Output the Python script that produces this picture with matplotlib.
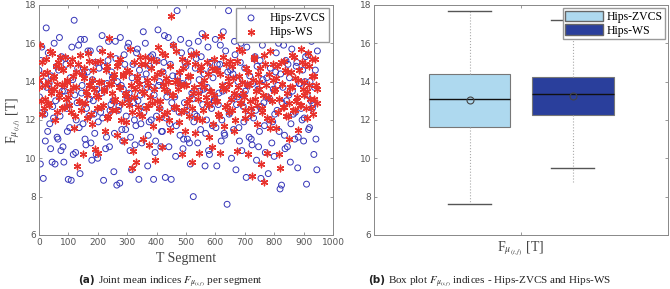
import matplotlib.pyplot as plt
import matplotlib.patches as mpatches
import numpy as np

plt.rcParams['mathtext.fontset'] = 'stix'

# segment index (two interleaved reads of the scatter, every 5th segment each)
segments = np.arange(0, 950, 5)
segments_b = segments + 2

zvcs = np.array([
    14.6, 9.7, 15.8, 8.95, 12.3, 16.8, 11.4, 13.9, 10.5, 9.8,
    12.1, 9.7, 14.8, 11.0, 16.3, 10.4, 13.5, 9.8, 15.2, 12.6,
    8.9, 11.6, 8.85, 14.1, 17.2, 10.3, 12.9, 15.9, 9.2, 13.4,
    11.8, 16.2, 10.7, 14.5, 12.2, 15.6, 9.9, 13.0, 11.3, 10.2,
    10.0, 14.7, 12.4, 16.4, 8.85, 13.6, 11.1, 15.1, 10.6, 12.8,
    14.2, 9.3, 16.1, 8.6, 12.5, 8.7, 13.8, 10.9, 15.4, 11.5,
    13.1, 16.0, 10.4, 9.4, 14.9, 12.0, 11.7, 15.7, 8.9, 13.3,
    10.8, 16.6, 12.7, 14.4, 9.6, 11.9, 15.3, 13.7, 8.9, 10.3,
    12.2, 16.7, 14.0, 10.6, 11.4, 15.0, 9.0, 13.2, 16.3, 11.8,
    8.9, 14.3, 12.6, 10.1, 17.7, 13.9, 11.2, 15.5, 10.5, 12.9,
    14.8, 11.0, 16.0, 9.7, 13.4, 8.0, 12.3, 15.2, 10.8, 14.1,
    11.5, 16.5, 13.6, 9.6, 12.0, 15.8, 10.2, 14.6, 11.7, 13.0,
    16.2, 9.6, 12.8, 14.9, 10.9, 13.5, 11.3, 15.6, 7.6, 17.7,
    12.4, 10.0, 14.4, 16.1, 9.4, 13.2, 11.6, 15.0, 10.4, 12.7,
    14.7, 9.0, 13.8, 11.1, 16.4, 10.7, 12.1, 15.3, 9.9, 13.6,
    11.4, 8.95, 15.9, 12.9, 10.3, 14.2, 9.2, 13.1, 16.3, 11.9,
    10.1, 14.5, 12.5, 16.0, 8.4, 8.6, 13.7, 11.2, 15.1, 10.6,
    13.3, 9.8, 15.7, 12.3, 11.0, 14.8, 9.5, 13.9, 16.5, 12.0,
    10.9, 14.0, 8.65, 15.4, 11.6, 13.0, 12.6, 10.2, 14.6, 9.4,
])
zvcs_b = np.array([
    13.2, 15.1, 12.4, 14.0, 10.9, 13.7, 15.5, 11.8, 14.3, 12.7,
    16.0, 13.0, 11.1, 14.6, 12.2, 15.3, 10.6, 13.5, 14.9, 11.4,
    12.8, 14.2, 15.8, 10.2, 13.3, 12.0, 14.7, 11.6, 16.2, 13.8,
    14.4, 11.0, 12.6, 15.6, 13.1, 10.8, 14.1, 12.3, 15.0, 13.6,
    11.9, 15.7, 13.4, 12.1, 14.8, 10.5, 13.9, 16.1, 12.5, 14.5,
    13.0, 11.3, 15.2, 14.0, 12.7, 16.3, 11.5, 13.6, 14.9, 12.2,
    15.8, 13.4, 11.1, 14.2, 12.9, 10.7, 15.5, 13.0, 14.6, 11.8,
    14.1, 12.4, 16.0, 13.7, 11.2, 14.8, 12.0, 15.4, 13.3, 10.9,
    15.1, 13.8, 12.6, 11.4, 14.5, 16.4, 12.1, 13.5, 10.6, 14.9,
    12.9, 15.9, 13.2, 11.7, 14.3, 12.4, 16.2, 13.9, 11.0, 15.0,
    12.5, 14.0, 10.8, 15.6, 13.1, 11.9, 14.7, 12.2, 16.1, 13.5,
    15.3, 12.8, 14.4, 11.3, 13.7, 10.4, 15.0, 12.6, 14.2, 13.0,
    11.6, 14.9, 13.4, 15.9, 12.0, 16.6, 11.2, 13.8, 14.5, 12.3,
    14.6, 13.1, 11.5, 15.4, 12.8, 14.0, 10.9, 16.0, 13.3, 11.9,
    13.5, 15.8, 12.2, 14.3, 11.0, 13.9, 15.2, 12.5, 14.8, 10.6,
    15.1, 12.7, 14.1, 11.7, 16.4, 13.2, 12.0, 14.7, 10.8, 13.6,
    12.3, 15.5, 13.8, 11.4, 14.4, 12.9, 15.9, 10.5, 13.0, 14.9,
    14.2, 11.8, 13.5, 16.3, 12.4, 15.0, 11.1, 13.9, 12.6, 14.6,
    12.1, 15.3, 13.3, 11.5, 14.0, 16.1, 12.8, 13.7, 11.0, 15.6,
])

ws = np.array([
    13.7, 15.9, 12.3, 14.4, 13.1, 15.2, 14.0, 12.8, 13.6, 15.5,
    14.3, 12.0, 13.9, 15.0, 13.4, 14.7, 12.6, 13.8, 15.3, 14.1,
    13.2, 14.9, 12.4, 13.7, 11.6, 14.5, 9.6, 13.0, 15.4, 12.9,
    10.2, 14.2, 13.5, 12.1, 15.1, 13.8, 11.8, 14.6, 10.5, 13.3,
    10.3, 14.0, 12.7, 15.6, 13.6, 11.4, 14.8, 12.2, 16.3, 13.9,
    12.5, 14.4, 13.1, 11.2, 15.0, 13.7, 12.0, 14.3, 10.9, 13.4,
    14.6, 12.8, 15.7, 9.5, 10.4, 13.2, 9.8, 14.1, 12.3, 15.3,
    13.5, 11.0, 14.9, 12.6, 13.8, 10.7, 15.2, 12.9, 14.2, 9.9,
    13.0, 15.8, 12.1, 14.5, 10.6, 13.6, 15.4, 12.4, 14.0, 11.5,
    17.4, 13.3, 12.7, 15.6, 14.1, 11.9, 13.9, 10.2, 14.7, 12.5,
    13.8, 15.0, 12.2, 14.3, 9.8, 13.4, 11.3, 15.5, 13.1, 10.3,
    14.8, 12.0, 13.7, 16.4, 12.9, 14.4, 11.1, 13.5, 10.6, 15.2,
    13.0, 14.6, 12.3, 10.3, 16.4, 13.6, 11.7, 14.9, 12.8, 13.9,
    15.1, 12.5, 14.2, 11.4, 13.3, 10.4, 15.7, 12.9, 14.0, 13.4,
    12.1, 14.7, 10.2, 13.8, 12.6, 9.1, 15.3, 13.1, 11.8, 14.4,
    13.6, 9.7, 12.4, 8.75, 14.9, 10.3, 13.2, 15.6, 12.0, 14.1,
    13.5, 11.6, 14.8, 10.2, 9.5, 13.9, 12.7, 15.1, 12.2, 14.5,
    11.0, 13.7, 15.4, 12.5, 14.2, 13.0, 11.5, 14.6, 12.8, 15.0,
    13.3, 14.9, 12.1, 15.5, 13.8, 12.6, 14.3, 13.1, 15.2, 13.6,
])
ws_b = np.array([
    14.1, 13.0, 15.0, 12.6, 13.8, 14.5, 12.9, 15.6, 13.4, 14.2,
    13.6, 14.8, 12.4, 13.2, 15.3, 13.9, 14.6, 12.7, 13.1, 14.0,
    12.8, 13.5, 15.2, 14.3, 12.2, 13.7, 14.9, 13.0, 12.5, 14.4,
    14.7, 12.9, 13.3, 15.5, 13.8, 12.3, 14.1, 13.6, 15.0, 12.6,
    13.2, 15.1, 14.0, 12.8, 13.5, 14.6, 12.1, 13.9, 15.4, 13.4,
    14.2, 13.0, 12.5, 14.8, 13.7, 15.2, 12.9, 14.4, 13.3, 11.9,
    13.1, 14.5, 13.8, 12.4, 15.0, 13.6, 14.3, 12.7, 13.9, 14.9,
    12.2, 13.4, 15.3, 14.1, 12.8, 13.2, 14.7, 11.7, 13.6, 15.1,
    14.4, 12.6, 13.0, 15.5, 13.9, 12.3, 14.2, 13.5, 12.0, 14.8,
    13.3, 15.9, 14.0, 12.7, 13.6, 14.5, 12.4, 15.2, 13.8, 11.4,
    12.9, 14.3, 13.1, 15.4, 12.6, 13.7, 14.9, 12.1, 13.4, 14.6,
    13.9, 12.5, 14.1, 13.2, 15.0, 12.8, 13.5, 14.7, 11.8, 13.3,
    14.6, 13.0, 12.2, 14.4, 13.8, 15.3, 12.7, 13.6, 14.2, 12.4,
    13.1, 14.8, 13.4, 12.0, 15.1, 13.7, 14.3, 12.9, 15.6, 13.2,
    12.5, 13.9, 14.5, 13.0, 12.3, 14.1, 15.2, 13.5, 12.8, 14.0,
    14.7, 12.6, 13.3, 15.4, 13.8, 12.1, 14.4, 11.6, 13.0, 14.9,
    13.6, 14.2, 12.4, 13.1, 15.0, 13.9, 12.7, 14.6, 13.4, 12.2,
    12.9, 14.5, 13.7, 15.3, 12.5, 13.2, 14.1, 12.8, 15.7, 13.6,
    14.0, 12.6, 13.5, 14.8, 13.1, 15.2, 12.3, 14.3, 13.8, 12.9,
])

# box plot summary
box_names = ['Hips-ZVCS', 'Hips-WS']
box_q1 = [11.65, 12.27]
box_med = [13.1, 13.33]
box_q3 = [14.42, 14.25]
box_mean = [13.02, 13.25]
box_lo = [7.6, 9.47]
box_hi = [17.7, 17.2]
box_tail = [7.6, 8.75]   # dotted whisker runs a bit below the cap for WS
box_colors = ['#aed9ef', '#2a3f9c']
box_pos = [0.325, 0.675]

fig = plt.figure(figsize=(6.7, 2.89), dpi=100)
tick_col = '#555555'
spine_col = '#888888'
fl = r'F$_{\mu_{(t,f)}}$ [T]'

# ---- (a) scatter
ax1 = fig.add_axes([0.058, 0.187, 0.439, 0.796])
ax1.scatter(np.concatenate([segments, segments_b]), np.concatenate([zvcs, zvcs_b]),
            s=18, facecolors='none', edgecolors='#3535b8',
            linewidths=0.7, label='Hips-ZVCS', zorder=2)
ax1.scatter(np.concatenate([segments, segments_b]), np.concatenate([ws, ws_b]),
            s=22, marker=(6, 2, 0), color='#e8322c',
            linewidths=1.0, label='Hips-WS', zorder=3)
ax1.set_xlim(0, 1000)
ax1.set_ylim(6, 18)
ax1.set_xticks(np.arange(0, 1001, 100))
ax1.set_yticks(np.arange(6, 19, 2))
ax1.set_xlabel('T Segment', family='Liberation Serif', fontsize=10, color='#444', labelpad=4)
ax1.set_ylabel(fl, family='Liberation Serif', fontsize=10, color='#444', labelpad=2)
ax1.legend(loc='upper right', prop={'family': 'Liberation Serif', 'size': 8.5},
           fancybox=False, framealpha=1, edgecolor='#999', borderaxespad=0.3,
           handletextpad=0.6, borderpad=0.3, labelspacing=0.2)

# ---- (b) box plot
ax2 = fig.add_axes([0.558, 0.187, 0.4395, 0.796])
stats = []
for i in range(2):
    stats.append(dict(label=box_names[i], q1=box_q1[i], med=box_med[i], q3=box_q3[i],
                      mean=box_mean[i], whislo=box_lo[i], whishi=box_hi[i], fliers=[]))
bp = ax2.bxp(stats, positions=box_pos, widths=0.278, patch_artist=True, showmeans=True,
             capwidths=0.146,
             whiskerprops=dict(linestyle=':', color='#aaaaaa', linewidth=0.8),
             capprops=dict(color='#555555', linewidth=1.0),
             medianprops=dict(color='#111111', linewidth=1.0),
             meanprops=dict(marker='o', markerfacecolor='none', markeredgecolor='#444',
                            markersize=5, markeredgewidth=0.8),
             boxprops=dict(edgecolor='#777777', linewidth=0.8))
for patch, c in zip(bp['boxes'], box_colors):
    patch.set_facecolor(c)
for i in range(2):
    ax2.plot([box_pos[i], box_pos[i]], [box_tail[i], box_lo[i]], linestyle=':',
             color='#aaaaaa', linewidth=0.8, zorder=1)
ax2.set_xlim(0, 1)
ax2.set_ylim(6, 18)
ax2.set_yticks(np.arange(6, 19, 2))
ax2.set_xticks([0.5])
ax2.set_xticklabels([fl], family='Liberation Serif', fontsize=10, color='#444')
handles = [mpatches.Patch(facecolor=c, edgecolor='#666', label=n) for c, n in zip(box_colors, box_names)]
ax2.legend(handles=handles, loc='upper right', prop={'family': 'Liberation Serif', 'size': 8.5},
           fancybox=False, framealpha=1, edgecolor='#999', borderaxespad=0.3,
           handlelength=3.2, handleheight=1.0, handletextpad=0.3, borderpad=0.2, labelspacing=0.1)

for ax in (ax1, ax2):
    ax.tick_params(direction='in', top=True, right=True, length=2.5, width=0.6,
                   colors=spine_col, labelcolor=tick_col, labelsize=6.5, pad=2)
    for sp in ax.spines.values():
        sp.set_color(spine_col)
        sp.set_linewidth(0.7)
ax2.tick_params(axis='x', labelcolor='#444', labelsize=10, pad=3)

# captions
cap_font = 'Liberation Serif'
fig.text(0.116, 0.02, '(a)', family='DejaVu Sans', weight='bold', fontsize=7.5, color='#222')
fig.text(0.146, 0.02, r'Joint mean indices $F_{\mu_{(t,f)}}$ per segment',
         family=cap_font, fontsize=8, color='#222')
fig.text(0.549, 0.02, '(b)', family='DejaVu Sans', weight='bold', fontsize=7.5, color='#222')
fig.text(0.579, 0.02, r'Box plot $F_{\mu_{(t,f)}}$ indices - Hips-ZVCS and Hips-WS',
         family=cap_font, fontsize=8, color='#222')

fig.savefig('out.png', dpi=100)
